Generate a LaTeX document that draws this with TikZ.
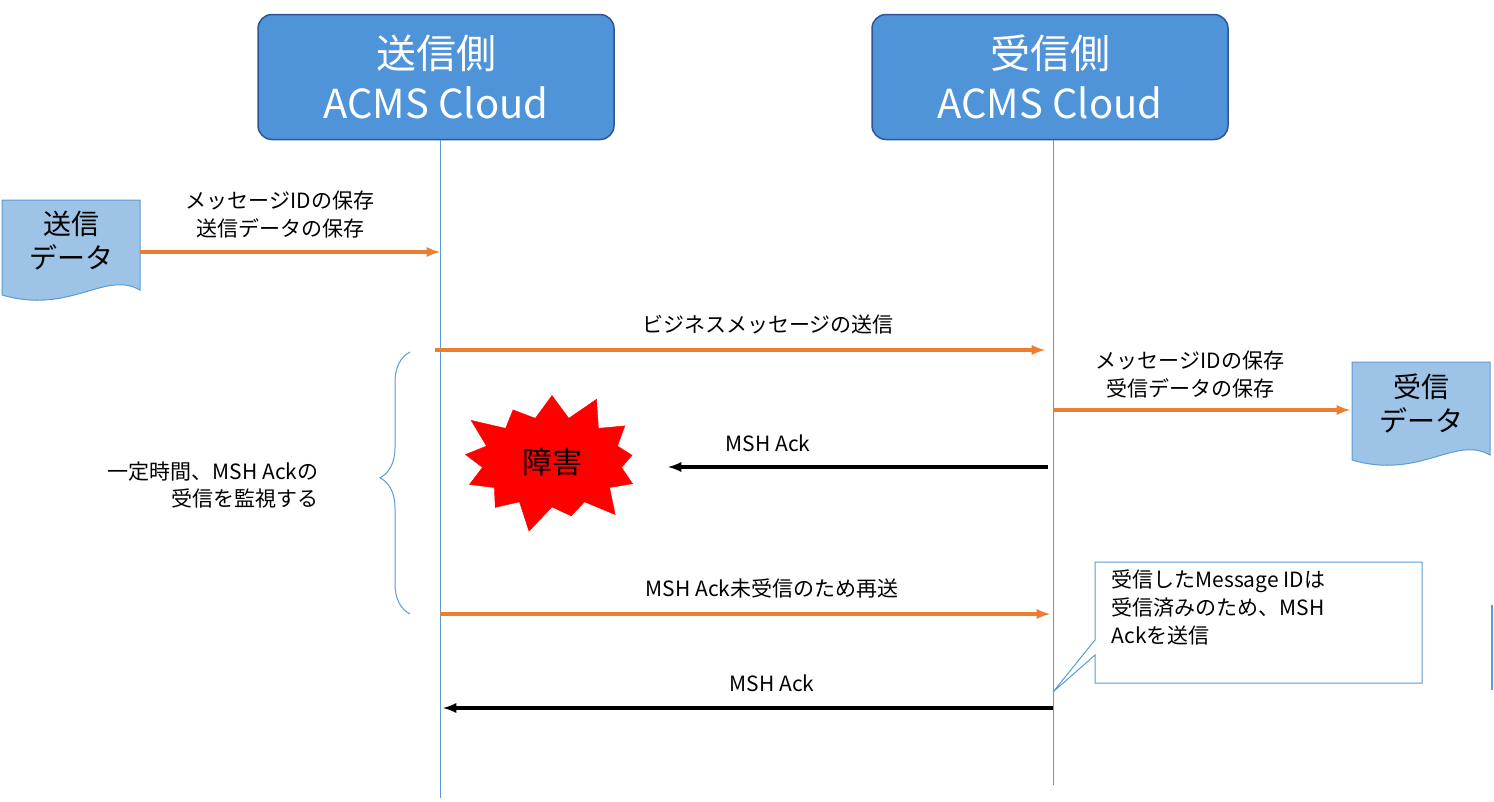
\documentclass[tikz,border=0pt]{standalone}
\usepackage{fontspec}
\setmainfont{Noto Sans CJK JP}
\usetikzlibrary{shapes.symbols,decorations.pathreplacing}
\definecolor{boxblue}{HTML}{4F94D8}
\definecolor{boxedge}{HTML}{2F5597}
\definecolor{lineblue}{HTML}{5B9BD5}
\definecolor{docblue}{HTML}{9DC3E6}
\definecolor{arrorange}{HTML}{ED7D31}

\tikzset{
  party/.style={draw=boxedge, line width=1.5pt, fill=boxblue, rounded corners=14pt,
    minimum width=356pt, minimum height=125pt, text=white, align=center,
    font=\fontsize{40}{50}\selectfont},
  life/.style={draw=lineblue, line width=1pt},
  msg/.style={line width=3.5pt, -latex},
  ok/.style={msg, arrorange},
  ack/.style={msg, black},
  lbl/.style={font=\fontsize{21}{28}\selectfont, align=center},
  docu/.style={draw=lineblue, fill=docblue, line width=1pt}
}

\begin{document}
\begin{tikzpicture}[x=1pt, y=-1pt]
\useasboundingbox (0,0) rectangle (1494,801);

\node[party] (snd) at (436,77) {送信側\\ACMS Cloud};
\node[party] (rcv) at (1050,77) {受信側\\ACMS Cloud};

\coordinate (sb) at (440,798);
\coordinate (rb) at (1053,785);
\draw[life] (snd.south -| sb) -- (sb);
\draw[life] (rcv.south -| rb) -- (rb);

% documents
\draw[docu] (2,200) -- (140,200) -- (140,290) .. controls (105,270) and (70,315) .. (2,295) -- cycle;
\node[lbl, font=\fontsize{28}{34}\selectfont] (sdoc) at (71,241) {送信\\データ};
\draw[docu] (1352,362) -- (1490,362) -- (1490,455) .. controls (1455,435) and (1420,480) .. (1352,460) -- cycle;
\node[lbl, font=\fontsize{28}{34}\selectfont] (rdoc) at (1421,403) {受信\\データ};

% messages
\coordinate (s1) at (140,252); \coordinate (t1) at (440,252);
\draw[ok] (s1) -- (t1);
\node[lbl] (l1) at (280,215) {メッセージIDの保存\\送信データの保存};

\coordinate (s2) at (435,350); \coordinate (t2) at (1045,350);
\draw[ok] (s2) -- (t2);
\node[lbl] (l2) at (768,325) {ビジネスメッセージの送信};

\coordinate (s3) at (1053,410); \coordinate (t3) at (1350,410);
\draw[ok] (s3) -- (t3);
\node[lbl] (l3) at (1190,375) {メッセージIDの保存\\受信データの保存};

\node[starburst, fill=red, draw=red, minimum width=200pt, minimum height=150pt,
  starburst points=13, starburst point height=30pt, font=\fontsize{30}{36}\selectfont] (err) at (552,462) {障害};
\coordinate (s4) at (1048,467); \coordinate (t4) at (668,467);
\draw[ack] (s4) -- (t4);
\node[lbl] (l4) at (768,443) {MSH Ack};

% brace
\coordinate (bt) at (410,352); \coordinate (bb) at (410,614);
\draw[lineblue, line width=1pt, decorate, decoration={brace, amplitude=30pt, aspect=0.52}] (bb) -- (bt);
\node[lbl, align=right, anchor=east] (wait) at (322,485) {一定時間、MSH Ackの\\受信を監視する};

\coordinate (s5) at (440,614); \coordinate (t5) at (1050,614);
\draw[ok] (s5) -- (t5);
\node[lbl] (l5) at (772,588) {MSH Ack未受信のため再送};

% callout
\coordinate (tip) at (1053,692);
\draw[lineblue, fill=white, line width=1pt] (1095,562) -- (1422,562) -- (1422,683) -- (1095,683)
  -- (1095,655) -- (tip) -- (1095,640) -- cycle;
\node[lbl, align=left, anchor=north west] (note) at (1108,566) {受信したMessage IDは\\受信済みのため、MSH\\Ackを送信};

\coordinate (s6) at (1053,708); \coordinate (t6) at (443,708);
\draw[ack] (s6) -- (t6);
\node[lbl] (l6) at (772,683) {MSH Ack};

\coordinate (ea) at (1492,605); \coordinate (eb) at (1492,690);
\draw[lineblue, line width=1.5pt] (ea) -- (eb);
\end{tikzpicture}
\end{document}
